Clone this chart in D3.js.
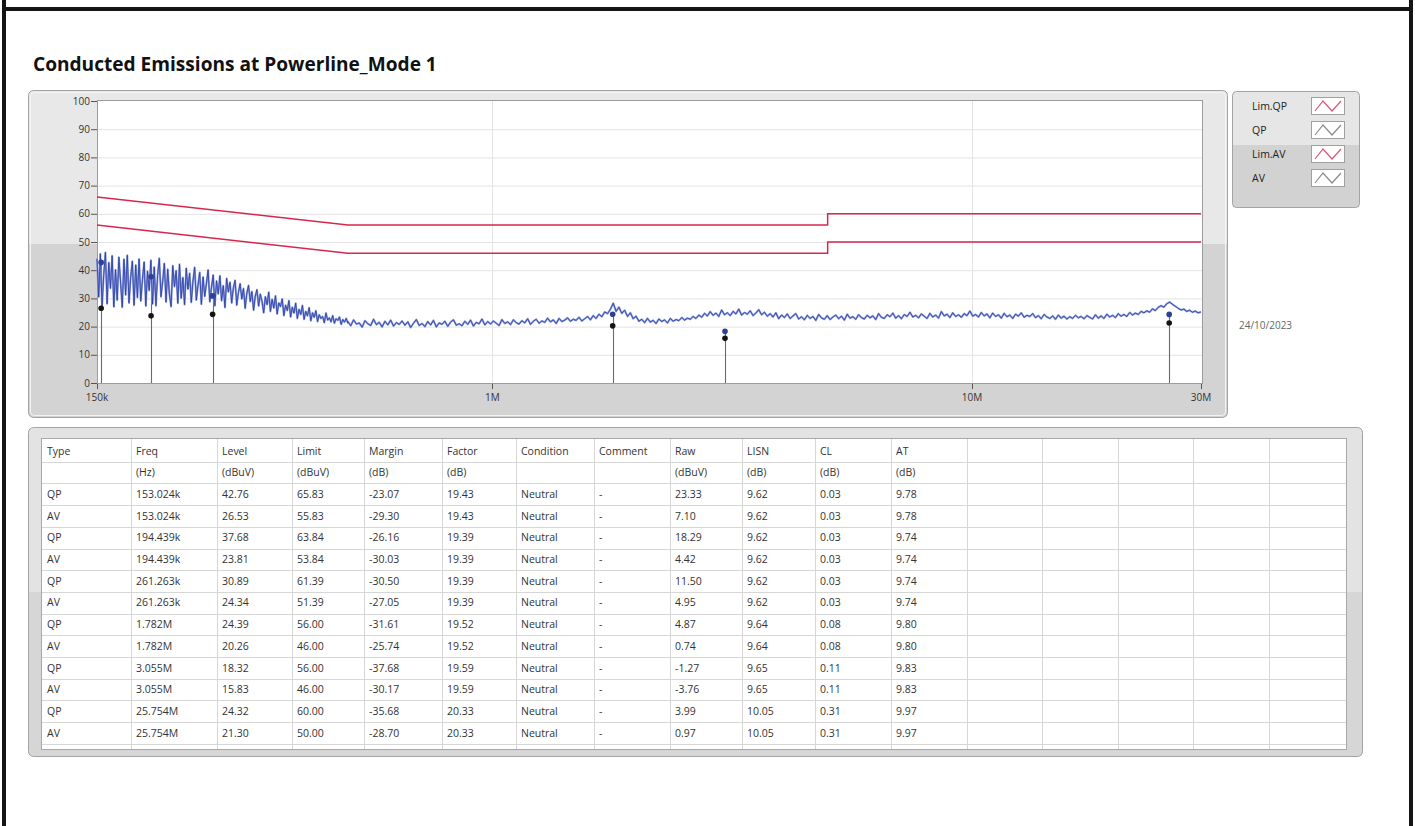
<!DOCTYPE html>
<html>
<head>
<meta charset="utf-8">
<script src="https://cdn.jsdelivr.net/npm/d3@7"></script>
<style>
body { margin: 0; background: #fff; }
text { font-family: "Open Sans", "Noto Sans", sans-serif; }
</style>
</head>
<body>
<svg id="page" width="1415" height="826"></svg>
<script>
// sweep of the receiver
const sweepStart = 150e3, sweepMid = 500e3, sweepStop = 30e6
const scanLow = [
	44.1, 30.5, 45.8, 27.2, 38.4, 46.3, 28.1, 42.7, 33.6, 45.1,
	27.0, 40.2, 29.4, 44.6, 35.8, 26.9, 43.9, 31.2, 45.3, 28.4,
	37.5, 43.2, 27.6, 41.8, 30.3, 44.0, 29.1, 36.7, 42.9, 27.3,
	39.6, 32.8, 43.5, 28.0, 41.1, 27.4, 38.2, 44.2, 30.6, 35.9,
	42.4, 28.7, 40.3, 31.5, 27.1, 41.6, 34.2, 39.8, 28.3, 42.1,
	30.1, 37.4, 27.8, 40.7, 33.3, 38.9, 28.6, 36.1, 41.0, 29.4,
	34.8, 39.2, 27.9, 37.6, 30.7, 35.4, 40.1, 28.8, 33.9, 38.3,
	27.4, 36.2, 31.6, 38.0, 29.2, 34.5, 26.8, 37.1, 32.3, 35.7,
	28.4, 33.8, 36.4, 27.6, 32.1, 35.2, 29.8, 33.5, 26.5, 31.9,
	34.6, 28.9, 32.4, 25.8, 30.8, 33.1, 27.3, 31.5, 29.0, 24.9,
	30.6, 27.8, 32.2, 25.4, 29.7, 26.6, 30.9, 24.5, 28.4, 27.1,
	29.8, 23.9, 27.6, 25.7, 29.2, 23.4, 26.9, 24.8, 28.3, 22.9,
	26.1, 24.3, 27.5, 22.6, 25.4, 23.8, 26.7, 22.1, 24.9, 23.3,
	25.6, 21.8, 24.2, 22.9, 23.6, 21.4, 24.8, 22.3, 23.1, 21.7,
	23.9, 21.2, 22.8, 22.2, 23.4, 20.8, 22.5, 21.6, 22.9, 21.3
]
const scanHigh = [
	21.8, 20.3, 22.4, 20.9, 21.3, 19.8, 22.1, 21.0, 20.4, 22.6, 20.7, 21.5, 19.9, 21.9, 20.6, 22.3, 20.2, 21.4, 20.8, 22.0,
	20.5, 21.7, 19.7, 21.2, 22.5, 20.4, 21.1, 20.0, 21.8, 20.6, 22.2, 19.9, 21.3, 20.8, 21.9, 20.1, 21.6, 22.4, 20.5, 21.0,
	20.3, 21.9, 20.8, 22.3, 20.2, 21.5, 21.0, 22.7, 20.6, 21.8, 20.9, 22.0, 21.2, 20.4, 22.5, 21.1, 21.7, 20.7, 22.4, 21.4,
	20.9, 22.1, 21.3, 22.8, 20.8, 21.9, 22.6, 21.2, 22.0, 21.5, 23.0, 21.7, 22.4, 21.1, 22.9, 21.8, 22.3, 23.1, 21.9, 22.6,
	22.2, 23.3, 22.0, 22.8, 23.6, 22.4, 23.9, 22.9, 24.4, 23.5, 25.2, 24.6, 26.1, 28.3, 25.4, 26.9, 24.7, 25.8, 23.6, 24.9,
	22.8, 23.7, 21.9, 22.6, 21.4, 22.9, 21.6, 22.2, 21.1, 22.7, 21.8, 22.4, 21.3, 22.9, 21.9, 22.5, 22.1, 23.2, 22.3, 23.0,
	22.6, 23.6, 22.9, 24.1, 23.3, 24.7, 23.8, 25.3, 24.0, 24.8, 23.6, 25.9, 24.2, 24.9, 23.9, 25.4, 24.5, 26.2, 24.1, 25.0,
	24.4, 25.6, 23.9, 24.8, 26.0, 24.2, 25.1, 23.7, 24.6, 23.4, 24.9, 22.8, 24.1, 23.2, 24.5, 22.9, 23.8, 24.6, 22.7, 23.5,
	22.4, 24.0, 22.9, 23.6, 22.2, 24.3, 23.1, 22.6, 23.9, 22.5, 23.4, 24.1, 22.8, 23.7, 22.3, 24.4, 23.0, 23.5, 22.6, 24.2,
	23.2, 22.7, 24.0, 23.1, 23.8, 22.5, 24.6, 23.3, 22.9, 24.2, 23.5, 24.8, 23.0, 23.9, 22.8, 24.3, 23.6, 25.1, 23.4, 24.0,
	23.1, 24.5, 23.7, 22.9, 24.7, 23.4, 24.1, 23.0, 25.3, 23.8, 24.4, 23.2, 24.9, 23.6, 24.2, 23.3, 24.6, 23.9, 25.5, 23.7,
	24.3, 23.4, 25.0, 23.8, 24.5, 23.1, 24.8, 23.6, 24.2, 23.0, 24.7, 23.5, 24.1, 22.9, 24.4, 23.7, 24.9, 23.3, 24.0, 23.6,
	24.6, 23.2, 23.9, 22.8, 24.3, 23.4, 22.9, 23.8, 22.6, 24.1, 23.0, 23.7, 22.7, 23.5, 22.9, 24.0, 23.1, 23.6, 22.8, 23.9,
	23.3, 22.7, 24.2, 23.0, 23.8, 22.9, 24.4, 23.4, 24.0, 23.2, 24.6, 23.7, 24.3, 23.6, 25.0, 24.1, 24.8, 24.3, 25.4, 24.9,
	25.6, 25.1, 26.3, 25.7, 26.8, 27.4, 26.9, 28.1, 28.7, 27.9, 27.2, 26.5, 25.9, 26.2, 25.4, 25.8, 25.1, 25.5, 24.9, 25.2
]

// limit lines (CISPR 32 class B mains)
const limFreq = [150e3, 500e3, 5e6, 5e6, 30e6]
const limQP = [66, 56, 56, 60, 60]
const limAV = [56, 46, 46, 50, 50]

const yTicks = [0, 10, 20, 30, 40, 50, 60, 70, 80, 90, 100]
const xTicks = [150e3, 1e6, 10e6, 30e6]
const xTickLabels = ["150k", "1M", "10M", "30M"]
const legendNames = ["Lim.QP", "QP", "Lim.AV", "AV"]
const legendIsLimit = [true, false, true, false]
const testDate = "24/10/2023"
const title = "Conducted Emissions at Powerline_Mode 1"

// result table
const colHeads = ["Type", "Freq", "Level", "Limit", "Margin", "Factor", "Condition", "Comment", "Raw", "LISN", "CL", "AT"]
const colUnits = ["", "(Hz)", "(dBuV)", "(dBuV)", "(dB)", "(dB)", "", "", "(dBuV)", "(dB)", "(dB)", "(dB)"]
const types = ["QP", "AV", "QP", "AV", "QP", "AV", "QP", "AV", "QP", "AV", "QP", "AV"]
const freqLabels = ["153.024k", "153.024k", "194.439k", "194.439k", "261.263k", "261.263k", "1.782M", "1.782M", "3.055M", "3.055M", "25.754M", "25.754M"]
const freqHz = [153024, 153024, 194439, 194439, 261263, 261263, 1782000, 1782000, 3055000, 3055000, 25754000, 25754000]
const levels = [42.76, 26.53, 37.68, 23.81, 30.89, 24.34, 24.39, 20.26, 18.32, 15.83, 24.32, 21.30]
const limits = [65.83, 55.83, 63.84, 53.84, 61.39, 51.39, 56.00, 46.00, 56.00, 46.00, 60.00, 50.00]
const margins = [-23.07, -29.30, -26.16, -30.03, -30.50, -27.05, -31.61, -25.74, -37.68, -30.17, -35.68, -28.70]
const factors = [19.43, 19.43, 19.39, 19.39, 19.39, 19.39, 19.52, 19.52, 19.59, 19.59, 20.33, 20.33]
const conditions = ["Neutral", "Neutral", "Neutral", "Neutral", "Neutral", "Neutral", "Neutral", "Neutral", "Neutral", "Neutral", "Neutral", "Neutral"]
const comments = ["-", "-", "-", "-", "-", "-", "-", "-", "-", "-", "-", "-"]
const raws = [23.33, 7.10, 18.29, 4.42, 11.50, 4.95, 4.87, 0.74, -1.27, -3.76, 3.99, 0.97]
const lisn = [9.62, 9.62, 9.62, 9.62, 9.62, 9.62, 9.64, 9.64, 9.65, 9.65, 10.05, 10.05]
const cableLoss = [0.03, 0.03, 0.03, 0.03, 0.03, 0.03, 0.08, 0.08, 0.11, 0.11, 0.31, 0.31]
const atten = [9.78, 9.78, 9.74, 9.74, 9.74, 9.74, 9.80, 9.80, 9.83, 9.83, 9.97, 9.97]
const colEdges = [42, 131, 217, 292, 364, 442, 516, 594, 670, 742, 815, 891, 967, 1042, 1118, 1193, 1269, 1346]

const svg = d3.select("#page")
const defs = svg.append("defs")

function splitGrad(id, stop, c1, c2) {
	let g = defs.append("linearGradient").attr("id", id).attr("x1", 0).attr("y1", 0).attr("x2", 0).attr("y2", 1)
	g.append("stop").attr("offset", 0).attr("stop-color", c1)
	g.append("stop").attr("offset", stop).attr("stop-color", c1)
	g.append("stop").attr("offset", stop).attr("stop-color", c2)
	g.append("stop").attr("offset", 1).attr("stop-color", c2)
}
splitGrad("chartBg", 0.47, "#e8e8e8", "#d3d3d3")
splitGrad("legBg", 0.46, "#e6e6e6", "#d2d2d2")
splitGrad("tabBg", 0.5, "#e3e3e3", "#d6d6d6")

// page frame
svg.append("rect").attr("x", 2).attr("y", 0).attr("width", 4).attr("height", 826).attr("fill", "#151515")
svg.append("rect").attr("x", 1409).attr("y", 0).attr("width", 4).attr("height", 826).attr("fill", "#151515")
svg.append("rect").attr("x", 2).attr("y", 7).attr("width", 1411).attr("height", 4).attr("fill", "#151515")

// title, fitted to the width it has in the report
let tt = svg.append("text").attr("x", 33).attr("y", 71).attr("font-weight", 700)
	.attr("font-size", 19).attr("fill", "#111").text(title)
let tw = tt.node().getComputedTextLength()
tt.attr("font-size", 19 * 404 / tw)

// chart panel
svg.append("rect").attr("x", 28.5).attr("y", 90.5).attr("width", 1199).attr("height", 327).attr("rx", 5)
	.attr("fill", "url(#chartBg)").attr("stroke", "#a3a3a3")
svg.append("rect").attr("x", 30.5).attr("y", 92.5).attr("width", 1195).attr("height", 323).attr("rx", 4)
	.attr("fill", "none").attr("stroke", "#f4f4f4").attr("stroke-width", 1)

const x = d3.scaleLog().domain([sweepStart, sweepStop]).range([97, 1201])
const y = d3.scaleLinear().domain([0, 100]).range([383, 101])

svg.append("rect").attr("x", 97).attr("y", 101).attr("width", 1106).attr("height", 282).attr("fill", "#fff")

let grid = svg.append("g")
grid.selectAll(".hg").data(yTicks.slice(1, -1)).enter().append("line")
	.attr("x1", 97).attr("x2", 1203).attr("y1", d => y(d) + 0.5).attr("y2", d => y(d) + 0.5)
	.attr("stroke", "#e3e3e3")
grid.selectAll(".vg").data(xTicks.slice(1, -1)).enter().append("line")
	.attr("x1", d => Math.round(x(d)) + 0.5).attr("x2", d => Math.round(x(d)) + 0.5).attr("y1", 101).attr("y2", 383)
	.attr("stroke", "#e3e3e3")

svg.append("rect").attr("x", 97.5).attr("y", 100.5).attr("width", 1105).attr("height", 283)
	.attr("fill", "none").attr("stroke", "#9c9c9c")

// y axis
let ya = svg.append("g")
ya.selectAll("line").data(yTicks).enter().append("line")
	.attr("x1", 91).attr("x2", 97).attr("y1", d => y(d) + 0.5).attr("y2", d => y(d) + 0.5).attr("stroke", "#555")
ya.selectAll("text").data(yTicks).enter().append("text")
	.attr("x", 90).attr("y", d => y(d)).attr("dy", "0.35em").attr("text-anchor", "end")
	.attr("font-size", 10).attr("fill", "#333").text(d => d)

// x axis
let xa = svg.append("g")
xa.selectAll("line").data(xTicks).enter().append("line")
	.attr("x1", d => Math.round(x(d)) + 0.5).attr("x2", d => Math.round(x(d)) + 0.5)
	.attr("y1", 384).attr("y2", 389).attr("stroke", "#555")
xa.selectAll("text").data(xTicks).enter().append("text")
	.attr("x", d => x(d)).attr("y", 397).attr("dy", "0.35em").attr("text-anchor", "middle")
	.attr("font-size", 10).attr("fill", "#333").text((d, i) => xTickLabels[i])

// limit lines
let limLine = d3.line().x(d => x(d[0])).y(d => y(d[1]))
svg.append("path").attr("d", limLine(limFreq.map((f, i) => [f, limQP[i]])))
	.attr("fill", "none").attr("stroke", "#d8264c").attr("stroke-width", 1.5)
svg.append("path").attr("d", limLine(limFreq.map((f, i) => [f, limAV[i]])))
	.attr("fill", "none").attr("stroke", "#d8264c").attr("stroke-width", 1.5)

// final measurement points
let peaks = []
for (let i = 0; i < types.length; i += 2) {
	peaks.push({ f: freqHz[i], qp: levels[i], av: levels[i + 1] })
}
svg.selectAll(".stem").data(peaks).enter().append("line").classed("stem", true)
	.attr("x1", d => Math.round(x(d.f)) + 0.5).attr("x2", d => Math.round(x(d.f)) + 0.5)
	.attr("y1", 383).attr("y2", d => y(Math.max(d.qp, d.av)))
	.attr("stroke", "#5e6898").attr("stroke-width", 1.1)

// scan trace
let scan = []
scanLow.forEach((v, i) => scan.push([sweepStart * Math.pow(sweepMid / sweepStart, i / (scanLow.length - 1)), v]))
scanHigh.forEach((v, i) => scan.push([sweepMid * Math.pow(sweepStop / sweepMid, i / (scanHigh.length - 1)), v]))
let traceLine = d3.line().x(d => x(d[0])).y(d => y(d[1]))
svg.append("path").attr("d", traceLine(scan)).attr("fill", "none")
	.attr("stroke", "#8c9de0").attr("stroke-width", 2).attr("stroke-linejoin", "round")
svg.append("path").attr("d", traceLine(scan)).attr("fill", "none")
	.attr("stroke", "#283a9c").attr("stroke-width", 0.8).attr("stroke-linejoin", "round")

svg.selectAll(".qpdot").data(peaks).enter().append("circle").classed("qpdot", true)
	.attr("cx", d => x(d.f)).attr("cy", d => y(d.qp)).attr("r", 2.8).attr("fill", "#2f3f95")
svg.selectAll(".avdot").data(peaks).enter().append("circle").classed("avdot", true)
	.attr("cx", d => x(d.f)).attr("cy", d => y(d.av)).attr("r", 2.8).attr("fill", "#141414")

svg.append("text").attr("x", 1239).attr("y", 325).attr("dy", "0.35em")
	.attr("font-size", 10).attr("fill", "#666").text(testDate)

// legend
svg.append("rect").attr("x", 1232.5).attr("y", 91.5).attr("width", 127).attr("height", 116).attr("rx", 4)
	.attr("fill", "url(#legBg)").attr("stroke", "#a3a3a3")
let leg = svg.selectAll(".leg").data(legendNames).enter().append("g").classed("leg", true)
	.attr("transform", (d, i) => `translate(0,${106 + i * 24})`)
leg.append("text").attr("x", 1252).attr("y", 0).attr("dy", "0.35em")
	.attr("font-size", 10.5).attr("fill", "#222").text(d => d)
leg.append("rect").attr("x", 1311.5).attr("y", -8.5).attr("width", 33).attr("height", 17)
	.attr("fill", "#fff").attr("stroke", "#a0a0a0")
leg.append("polyline").attr("points", "1315,5 1323,-5 1332,5 1341,-5")
	.attr("fill", "none").attr("stroke", (d, i) => legendIsLimit[i] ? "#e0557a" : "#8a8a8a").attr("stroke-width", 1.2)

// table panel
svg.append("rect").attr("x", 28.5).attr("y", 427.5).attr("width", 1334).attr("height", 329).attr("rx", 5)
	.attr("fill", "url(#tabBg)").attr("stroke", "#a3a3a3")
svg.append("rect").attr("x", 41.5).attr("y", 438.5).attr("width", 1305).attr("height", 311)
	.attr("fill", "#fff").attr("stroke", "#a8a8a8")

const rowH = 21.7, rowTop = 440
let rows = [colHeads, colUnits]
for (let i = 0; i < types.length; i++) {
	rows.push([types[i], freqLabels[i], levels[i].toFixed(2), limits[i].toFixed(2), margins[i].toFixed(2),
		factors[i].toFixed(2), conditions[i], comments[i], raws[i].toFixed(2), lisn[i].toFixed(2),
		cableLoss[i].toFixed(2), atten[i].toFixed(2)])
}
let tg = svg.append("g")
tg.selectAll(".rl").data(d3.range(1, rows.length + 1)).enter().append("line")
	.attr("x1", 42).attr("x2", 1346).attr("y1", d => Math.round(rowTop + d * rowH) + 0.5).attr("y2", d => Math.round(rowTop + d * rowH) + 0.5)
	.attr("stroke", "#d6d6d6")
tg.selectAll(".cl").data(colEdges.slice(1, -1)).enter().append("line")
	.attr("x1", d => d + 0.5).attr("x2", d => d + 0.5).attr("y1", 439).attr("y2", 749)
	.attr("stroke", "#d6d6d6")
rows.forEach((r, ri) => {
	tg.selectAll(".r" + ri).data(r).enter().append("text")
		.attr("x", (d, ci) => colEdges[ci] + 5).attr("y", rowTop + (ri + 0.5) * rowH).attr("dy", "0.35em")
		.attr("font-size", 10.5).attr("fill", "#333").text(d => d)
})
</script>
</body>
</html>
